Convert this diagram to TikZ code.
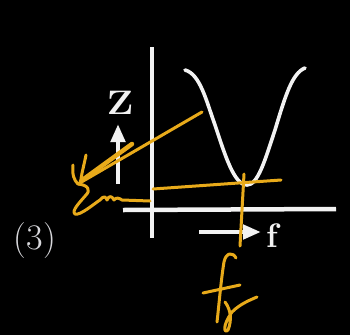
\documentclass[tikz,border=0pt]{standalone}
\usetikzlibrary{arrows.meta}
\definecolor{ink}{HTML}{F2F2F2}
\definecolor{pen}{HTML}{E8AA1A}
\definecolor{lbl}{HTML}{D8D8DC}
\tikzset{
  axis/.style={draw=ink,line width=4.5pt},
  curve/.style={draw=ink,line width=3.6pt,line cap=round},
  penline/.style={draw=pen,line width=3pt,line cap=round,line join=round},
  bigarrow/.style={draw=ink,line width=4.5pt,-{Triangle[length=18pt,width=14pt]}},
  axlabel/.style={text=ink,font=\bfseries\fontsize{34}{36}\selectfont,inner sep=0pt},
}
\begin{document}
\begin{tikzpicture}[x=1pt,y=-1pt]
\fill[black] (0,0) rectangle (350,335);
\useasboundingbox (0,0) rectangle (350,335);
% axes
\coordinate (vtop) at (152,47);
\coordinate (vbot) at (152,238);
\coordinate (hleft) at (123,210);
\coordinate (hright) at (336,209);
\draw[axis] (vtop) -- (vbot);
\draw[axis] (hleft) -- (hright);
% curve
\coordinate (c0) at (185,70);
\coordinate (cmin) at (247,185);
\coordinate (c1) at (305,68);
\draw[curve] (c0) .. controls (200,74) and (206,100) .. (215,125)
  .. controls (225,155) and (234,185) .. (cmin)
  .. controls (258,185) and (265,160) .. (275,130)
  .. controls (285,97) and (292,73) .. (c1);
% Z arrow and label
\coordinate (za) at (118,184);
\coordinate (zb) at (118,124);
\draw[bigarrow] (za) -- (zb);
\node[axlabel,xscale=1.15] (zl) at (120,103) {Z};
% f arrow and label
\coordinate (fa) at (199,232);
\coordinate (fb) at (261,232);
\draw[bigarrow] (fa) -- (fb);
\node[axlabel] (fl) at (272,236) {f};
% (3)
\node[text=lbl,font=\fontsize{36}{38}\selectfont,inner sep=0pt] (num) at (35,241) {(3)};
% orange annotations
\coordinate (d0) at (202,112);
\coordinate (d1) at (78,184);
\draw[penline] (d0) -- (d1);
\draw[penline,line width=4.5pt] (132,144) -- (81,181);
\draw[penline] (73,165) .. controls (72,175) and (74,180) .. (d1);
\draw[penline] (86,155) .. controls (84,165) and (82,172) .. (81,179);
\coordinate (zm1) at (150,201);
\draw[penline] (d1) .. controls (88,185) and (91,190) .. (86,195)
  .. controls (80,202) and (71,211) .. (75,214)
  .. controls (80,216) and (95,203) .. (100,200)
  .. controls (104,195) and (106,197) .. (107,200)
  .. controls (109,195) and (112,196) .. (114,200)
  .. controls (116,197) and (119,198) .. (122,200) -- (zm1);
\coordinate (h0) at (153,189);
\coordinate (h1) at (281,180);
\draw[penline] (h0) -- (h1);
\coordinate (v0) at (244,174);
\coordinate (v1) at (240,246);
\draw[penline] (v0) -- (v1);
% f_r handwritten
\draw[penline] (236,258) .. controls (233,252) and (226,252) .. (224,262)
  .. controls (221,280) and (219,305) .. (217,322);
\draw[penline] (203,293) -- (240,285);
\draw[penline] (225,302) .. controls (231,310) and (232,320) .. (228,330)
  .. controls (224,334) and (222,326) .. (232,312)
  .. controls (240,304) and (250,300) .. (257,297);
\end{tikzpicture}
\end{document}
